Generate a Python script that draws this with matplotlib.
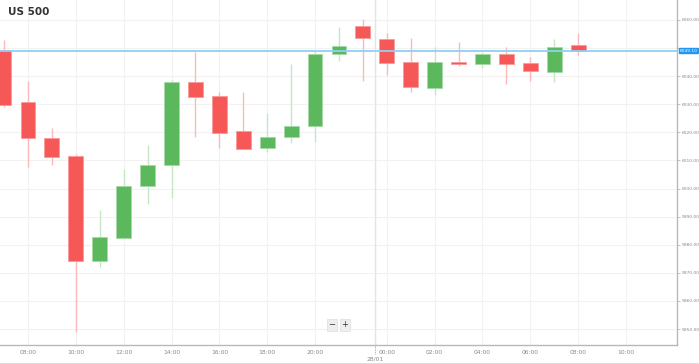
import numpy as np
import matplotlib
matplotlib.use("Agg")
import matplotlib.pyplot as plt

# hourly candles, US 500 (22:00 session break skipped)
hours = ["07:00", "08:00", "09:00", "10:00", "11:00", "12:00", "13:00", "14:00",
         "15:00", "16:00", "17:00", "18:00", "19:00", "20:00", "21:00", "23:00",
         "00:00", "01:00", "02:00", "03:00", "04:00", "05:00", "06:00", "07:00", "08:00"]
opens = [6049.3, 6030.8, 6018.0, 6011.6, 5974.2, 5982.4, 6000.9, 6008.4,
         6037.9, 6032.9, 6020.5, 6014.4, 6018.4, 6022.3, 6047.9, 6057.9,
         6053.2, 6045.1, 6035.8, 6045.1, 6044.3, 6047.9, 6044.7, 6041.5, 6051.1]
highs = [6052.9, 6038.3, 6021.6, 6012.3, 5992.4, 6007.0, 6015.5, 6038.6,
         6048.6, 6034.4, 6034.4, 6026.9, 6044.3, 6049.0, 6057.5, 6060.4,
         6055.4, 6053.6, 6050.4, 6052.2, 6048.6, 6050.4, 6046.8, 6053.2, 6055.4]
lows = [6029.0, 6007.7, 6008.4, 5948.9, 5972.1, 5982.0, 5994.5, 5996.6,
        6018.4, 6014.4, 6014.1, 6013.0, 6016.2, 6016.6, 6045.4, 6038.3,
        6040.4, 6034.4, 6033.3, 6043.6, 6042.9, 6037.2, 6038.3, 6037.9, 6047.5]
closes = [6029.7, 6018.0, 6011.2, 5974.2, 5982.8, 6000.9, 6008.4, 6037.9,
          6032.6, 6019.8, 6014.1, 6018.4, 6022.3, 6047.9, 6050.7, 6053.6,
          6044.7, 6036.2, 6045.1, 6044.3, 6047.9, 6044.3, 6041.8, 6050.4, 6049.1]
last_price = 6049.1
last_label = "6049.10"

tick_pos = [1, 3, 5, 7, 9, 11, 13, 16, 18, 20, 22, 24, 26]
tick_labels = ["08:00", "10:00", "12:00", "14:00", "16:00", "18:00", "20:00",
               "00:00", "02:00", "04:00", "06:00", "08:00", "10:00"]
day_break = 15.5
day_label = "28/01"
y_ticks = np.arange(5950, 6061, 10)

o = np.array(opens)
c = np.array(closes)
x = np.arange(len(o))
up = c >= o

red, red_wick = "#f65858", "#fbb9b9"
green, green_wick = "#5cb85c", "#c6e6c6"

fig = plt.figure(figsize=(6.99, 3.64), dpi=100)
ax = fig.add_axes([0.0, 0.052, 0.9685, 0.948])

# wicks
ax.vlines(x[up], np.array(lows)[up], np.array(highs)[up], color=green_wick, lw=1, zorder=2)
ax.vlines(x[~up], np.array(lows)[~up], np.array(highs)[~up], color=red_wick, lw=1, zorder=2)
# bodies
body_lo = np.minimum(o, c)
body_h = np.maximum(np.abs(c - o), 0.4)
ax.bar(x[up], body_h[up], bottom=body_lo[up], width=0.62, color=green,
       edgecolor="#a8d8a8", linewidth=0.6, zorder=3)
ax.bar(x[~up], body_h[~up], bottom=body_lo[~up], width=0.62, color=red,
       edgecolor="#fb9a9a", linewidth=0.6, zorder=3)

ax.set_xlim(-0.17, 28.13)
ax.set_ylim(5944.3, 6067.1)

# grid
for p in tick_pos:
    ax.axvline(p, color="#f2f2f2", lw=0.8, zorder=0)
for v in y_ticks:
    ax.axhline(v, color="#f2f2f2", lw=0.8, zorder=0)
ax.axvline(day_break, color="#e4e4e4", lw=1, zorder=0)

# current price line
ax.axhline(last_price, color="#8fd0f5", lw=1.3, zorder=4)

for s in ["top", "left"]:
    ax.spines[s].set_visible(False)
for s in ["right", "bottom"]:
    ax.spines[s].set_color("#b8b8b8")
    ax.spines[s].set_linewidth(1)

ax.yaxis.tick_right()
ax.set_yticks(y_ticks)
# the 6050 label sits under the price tag
ax.set_yticklabels(["" if v == 6050 else "%.2f" % v for v in y_ticks],
                   fontsize=3.2, color="#888888")
ax.tick_params(axis="y", length=2.5, width=0.6, color="#b8b8b8", pad=0.8)
ax.set_xticks(tick_pos)
ax.set_xticklabels(tick_labels, fontsize=4.3, color="#888888")
ax.tick_params(axis="x", length=0, pad=3.5)

# date separator below the axis
ax.plot([day_break, day_break], [0, -0.025], transform=ax.get_xaxis_transform(),
        color="#999999", lw=0.6, ls=(0, (1, 1)), clip_on=False)
ax.text(day_break, -0.04, day_label, transform=ax.get_xaxis_transform(),
        ha="center", va="center", fontsize=4.3, color="#888888")

# price label on the axis
ax.text(1.004, last_price, last_label, transform=ax.get_yaxis_transform(),
        ha="left", va="center", fontsize=3.2, color="white", zorder=6,
        bbox=dict(boxstyle="square,pad=0.2", fc="#2196f3", ec="#2196f3"))

ax.text(0.012, 0.965, "US 500", transform=ax.transAxes, ha="left", va="center",
        fontsize=7.5, fontweight="bold", color="#333333")

# zoom buttons
ax.text(13.7, 5951.5, "\u2212", ha="center", va="center", fontsize=6, color="#333333",
        bbox=dict(boxstyle="square,pad=0.15", fc="#eeeeee", ec="#dddddd", lw=0.5))
ax.text(14.25, 5951.5, "+", ha="center", va="center", fontsize=6, color="#333333",
        bbox=dict(boxstyle="square,pad=0.15", fc="#eeeeee", ec="#dddddd", lw=0.5))

fig.add_artist(plt.Line2D([0, 1], [0.004, 0.004], color="#dddddd", lw=0.8))

fig.savefig("out.png", dpi=100, facecolor="white")
